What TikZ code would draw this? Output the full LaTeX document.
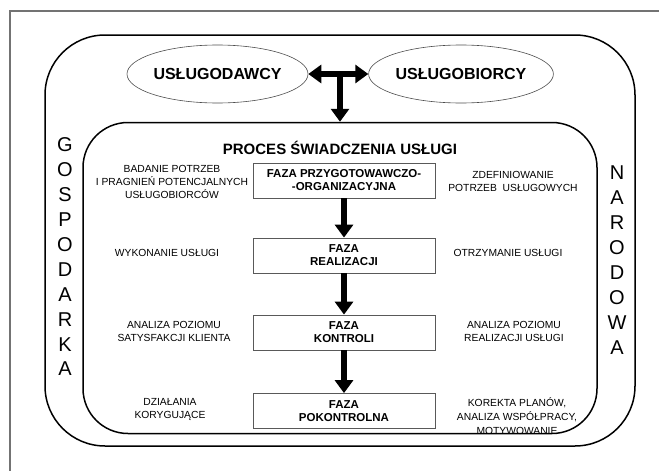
\documentclass[tikz,border=0pt]{standalone}
\usepackage{fontspec}
\setmainfont{Liberation Sans}
\usetikzlibrary{shapes.geometric,arrows.meta}

\begin{document}
\begin{tikzpicture}[x=1pt, y=-1pt,
        faza/.style={draw=black!65, line width=0.8pt, minimum width=182pt, minimum height=35pt,
            inner sep=0pt, align=center, font=\fontsize{11.5}{13}\selectfont\bfseries},
        opis/.style={align=center, inner sep=0pt, font=\fontsize{10.3}{13}\selectfont},
        strona/.style={draw=black!70, ellipse, line width=0.6pt, minimum width=180pt, minimum height=58pt,
            inner sep=0pt, font=\fontsize{16}{18}\selectfont\bfseries},
        ramka/.style={draw, line width=1.5pt, inner sep=0pt},
        litera/.style={inner sep=0pt, font=\fontsize{20}{22}\selectfont},
        flow/.style={line width=6.5pt, -{Triangle[width=18pt,length=13pt]}}]
    \useasboundingbox (0,0) rectangle (659,471);
    \draw[black!55, line width=1.2pt] (10,471) |- (659,11);

    % gospodarka narodowa
    \node[ramka, rounded corners=60pt, minimum width=590pt, minimum height=411pt] (G) at (340,240.5) {};
    \node[ramka, rounded corners=45pt, minimum width=514pt, minimum height=311pt] (P) at (340,278) {};
    \foreach \l [count=\i] in {G,O,S,P,O,D,A,R,K,A}
        \node[litera] (LG\i) at (65, 120.1+24.9*\i) {\l};
    \foreach \l [count=\i] in {N,A,R,O,D,O,W,A}
        \node[litera] (LN\i) at (617, 148.1+24.9*\i) {\l};

    \node[strona] (E1) at (217.5,74) {USŁUGODAWCY};
    \node[strona] (E2) at (461,74) {USŁUGOBIORCY};
    \coordinate (T) at (340,74);

    \node[inner sep=0pt, font=\fontsize{15}{17}\selectfont\bfseries] (title) at (340,148) {PROCES ŚWIADCZENIA USŁUGI};

    % fazy
    \node[faza] (F1) at (344,180.5) {FAZA PRZYGOTOWAWCZO-\\-ORGANIZACYJNA};
    \node[faza] (F2) at (344,255.5) {FAZA\\REALIZACJI};
    \node[faza] (F3) at (344,332.5) {FAZA\\KONTROLI};
    \node[faza] (F4) at (344,411) {FAZA\\POKONTROLNA};

    \node[opis] (L1) at (172,182) {BADANIE POTRZEB\\I PRAGNIEŃ POTENCJALNYCH\\USŁUGOBIORCÓW};
    \node[opis] (L2) at (167,253) {WYKONANIE USŁUGI};
    \node[opis] (L3) at (174,331.5) {ANALIZA POZIOMU\\SATYSFAKCJI KLIENTA};
    \node[opis] (L4) at (170,409.5) {DZIAŁANIA\\KORYGUJĄCE};

    \node[opis] (R1) at (513,181) {ZDEFINIOWANIE\\POTRZEB\ \ USŁUGOWYCH};
    \node[opis] (R2) at (508,253) {OTRZYMANIE USŁUGI};
    \node[opis] (R3) at (514,331.5) {ANALIZA POZIOMU\\REALIZACJI USŁUGI};
    \node[opis, font=\fontsize{10.3}{14}\selectfont] (R4) at (517,416) {KOREKTA PLANÓW,\\ANALIZA WSPÓŁPRACY,\\MOTYWOWANIE};

    \draw[line width=6.5pt, {Triangle[width=18pt,length=13pt]}-{Triangle[width=18pt,length=13pt]}] (E1) to (E2);
    \draw[flow] (T) to (P.north);
    \draw[flow] (F1) to (F2);
    \draw[flow] (F2) to (F3);
    \draw[flow] (F3) to (F4);
\end{tikzpicture}
\end{document}
